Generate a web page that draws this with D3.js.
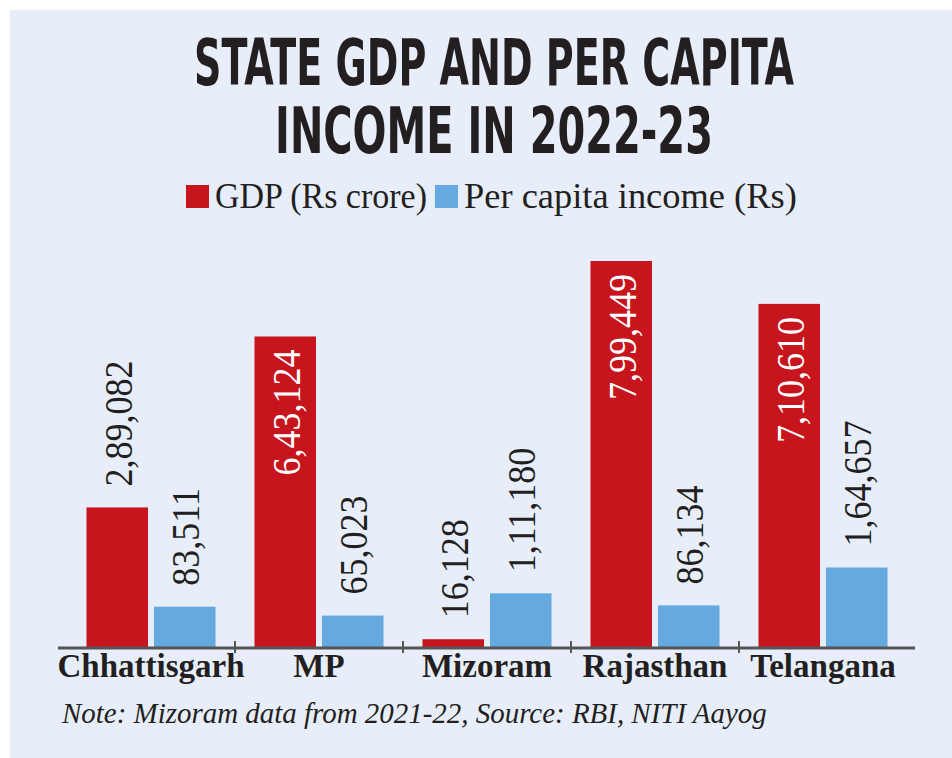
<!DOCTYPE html>
<html>
<head>
<meta charset="utf-8">
<script src="https://cdn.jsdelivr.net/npm/d3@7"></script>
<style>
  html, body { margin: 0; padding: 0; background: #ffffff; }
  svg { display: block; }
</style>
</head>
<body>
<div id="chart"></div>
<script>
// ---- Data ----
const categories = ["Chhattisgarh", "MP", "Mizoram", "Rajasthan", "Telangana"];
const gdp = [289082, 643124, 16128, 799449, 710610];          // Rs crore
const perCapita = [83511, 65023, 111180, 86134, 164657];      // Rs
const seriesNames = ["GDP (Rs crore)", "Per capita income (Rs)"];
const titleLines = ["STATE GDP AND PER CAPITA", "INCOME IN 2022-23"];
const noteText = "Note: Mizoram data from 2021-22, Source: RBI, NITI Aayog";

// ---- Setup ----
const W = 952, H = 758;
const colors = { gdp: "#c7151d", pc: "#64a9e0" };
const ink = "#231f20";
const indian = d3.formatLocale({ decimal: ".", thousands: ",", grouping: [3, 2], currency: ["₹", ""] });
const fmt = indian.format(",d");

const svg = d3.select("#chart").append("svg")
  .attr("width", W).attr("height", H)
  .attr("viewBox", `0 0 ${W} ${H}`);

svg.append("rect").attr("width", W).attr("height", H).attr("fill", "#ffffff");
svg.append("rect").attr("x", 10).attr("y", 10).attr("width", W - 10).attr("height", H - 10).attr("fill", "#e7eefa");

// helper: fit a text horizontally to a target width by scaling
function fitText(sel, cx, cy, targetW, anchor) {
  const natural = sel.node().getComputedTextLength();
  const sx = targetW / natural;
  sel.attr("text-anchor", anchor)
     .attr("transform", `translate(${cx},${cy}) scale(${sx},1)`);
}

// ---- Title ----
const titleFont = "'DejaVu Sans Condensed', 'DejaVu Sans', sans-serif";
const titleWidths = [600, 438];
const titleY = [85, 153];
titleLines.forEach((t, i) => {
  const tx = svg.append("text")
    .attr("font-family", titleFont)
    .attr("font-weight", "bold")
    .attr("font-size", 64)
    .attr("fill", ink)
    .text(t);
  fitText(tx, 494, titleY[i], titleWidths[i], "middle");
});

// ---- Legend ----
const legendItems = [
  { name: seriesNames[0], color: colors.gdp, x: 186, textW: 212 },
  { name: seriesNames[1], color: colors.pc, x: 435, textW: 333 }
];
const lg = svg.append("g");
legendItems.forEach(d => {
  lg.append("rect").attr("x", d.x).attr("y", 185).attr("width", 23).attr("height", 23).attr("fill", d.color);
  const tx = lg.append("text")
    .attr("font-family", "'Liberation Serif', serif")
    .attr("font-size", 35)
    .attr("fill", ink)
    .text(d.name);
  fitText(tx, d.x + 29, 208, d.textW, "start");
});

// ---- Scales ----
const x0 = d3.scaleBand().domain(categories).range([67, 907]).paddingInner(0).paddingOuter(0);
const keys = ["gdp", "pc"];
const x1 = d3.scaleBand().domain(keys).range([0, x0.bandwidth()]).paddingInner(0.089).paddingOuter(0.289);
const y = d3.scaleLinear().domain([0, d3.max(gdp)]).range([647, 261]);

const rows = categories.map((c, i) => ({ cat: c, gdp: gdp[i], pc: perCapita[i] }));

// ---- Bars ----
const groups = svg.append("g").selectAll("g").data(rows).join("g")
  .attr("transform", d => `translate(${x0(d.cat)},0)`);

groups.selectAll("rect").data(d => keys.map(k => ({ key: k, value: d[k] }))).join("rect")
  .attr("x", d => x1(d.key))
  .attr("y", d => y(d.value))
  .attr("width", x1.bandwidth())
  .attr("height", d => y(0) - y(d.value))
  .attr("fill", d => colors[d.key]);

// ---- Value labels ----
groups.selectAll("text.val").data(d => keys.map(k => ({ key: k, value: d[k] }))).join("text")
  .attr("class", "val")
  .each(function (d) {
    const cx = x1(d.key) + x1.bandwidth() / 2;
    const top = y(d.value);
    const inside = (y(0) - top) > 250;
    const ty = inside ? top + 13 : top - 21;
    d3.select(this)
      .attr("transform", `translate(${cx},${ty}) rotate(-90) scale(0.9,1)`)
      .attr("text-anchor", inside ? "end" : "start")
      .attr("dy", "0.36em")
      .attr("font-family", "'Liberation Serif', serif")
      .attr("font-size", 40)
      .attr("fill", inside ? "#ffffff" : ink)
      .text(fmt(d.value));
  });

// ---- Axis ----
svg.append("line")
  .attr("x1", 58).attr("x2", 915)
  .attr("y1", 648).attr("y2", 648)
  .attr("stroke", "#555555").attr("stroke-width", 3);

svg.append("g").selectAll("line").data(categories.slice(1)).join("line")
  .attr("x1", d => x0(d)).attr("x2", d => x0(d))
  .attr("y1", 641).attr("y2", 653)
  .attr("stroke", "#555555").attr("stroke-width", 2);

svg.append("g").selectAll("text").data(categories).join("text")
  .attr("x", d => x0(d) + x0.bandwidth() / 2)
  .attr("y", 677)
  .attr("text-anchor", "middle")
  .attr("font-family", "'Liberation Serif', serif")
  .attr("font-weight", "bold")
  .attr("font-size", 33)
  .attr("fill", ink)
  .text(d => d);

// ---- Note ----
const note = svg.append("text")
  .attr("font-family", "'Liberation Serif', serif")
  .attr("font-style", "italic")
  .attr("font-size", 30)
  .attr("fill", ink)
  .text(noteText);
fitText(note, 62, 723, 705, "start");
</script>
</body>
</html>
